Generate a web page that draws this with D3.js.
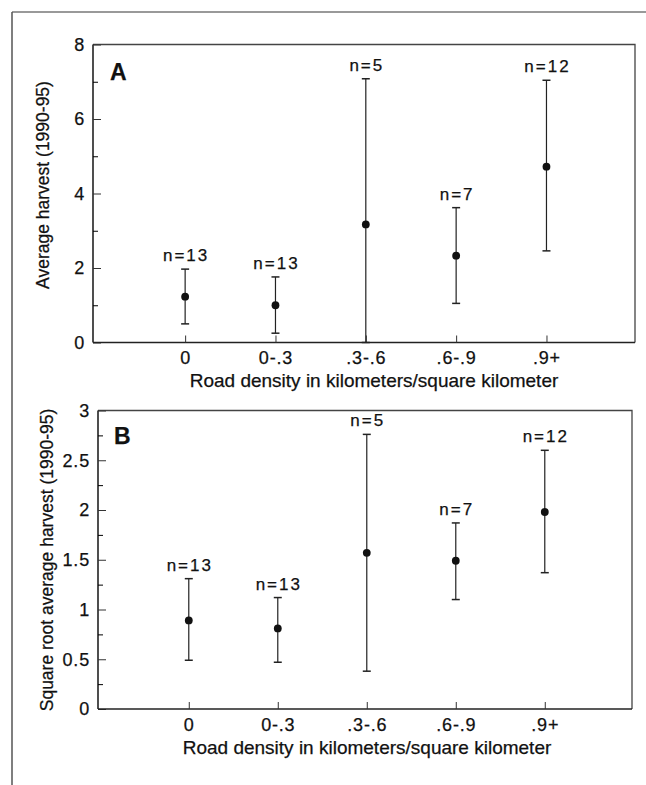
<!DOCTYPE html>
<html>
<head>
<meta charset="utf-8">
<script src="https://cdn.jsdelivr.net/npm/d3@7"></script>
<style>
  body { margin: 0; background: #fff; }
  svg { display: block; font-family: "Liberation Sans", Arial, Helvetica, sans-serif; }
  svg text { stroke: #111; stroke-width: 0.25px; }
</style>
</head>
<body>
<div id="chart"></div>
<script>
// Data
var categories = ["0", "0-.3", ".3-.6", ".6-.9", ".9+"];
var sampleSizes = [13, 13, 5, 7, 12];

// panel A: average harvest (1990-95)
var harvestMean = [1.23, 1.00, 3.17, 2.33, 4.72];
var harvestLow  = [0.50, 0.25, 0.00, 1.05, 2.46];
var harvestHigh = [1.97, 1.76, 7.08, 3.62, 7.04];

// panel B: square root average harvest
var sqrtMean = [0.89, 0.81, 1.57, 1.49, 1.98];
var sqrtLow  = [0.49, 0.47, 0.38, 1.10, 1.37];
var sqrtHigh = [1.31, 1.12, 2.76, 1.87, 2.60];

var yTicksA = [0, 2, 4, 6, 8];
var yMinorA = [1, 3, 5, 7];
var yTicksB = [0, 0.5, 1, 1.5, 2, 2.5, 3];
var yMinorB = [0.25, 0.75, 1.25, 1.75, 2.25, 2.75];

var width = 646, height = 785;

var svg = d3.select("#chart")
  .append("svg")
  .attr("width", width)
  .attr("height", height);

// page frame (top rule + left rule)
svg.append("line")
  .attr("x1", 12).attr("x2", width)
  .attr("y1", 12).attr("y2", 12)
  .attr("stroke", "#777").attr("stroke-width", 1.5);
svg.append("line")
  .attr("x1", 12).attr("x2", 12)
  .attr("y1", 12).attr("y2", height)
  .attr("stroke", "#555").attr("stroke-width", 1.5);

function panel(opt) {
  var g = svg.append("g").attr("class", "panel");

  var x = d3.scaleLinear()
    .domain([-1.02, 4.98])
    .range([opt.left, opt.right]);

  var y = d3.scaleLinear()
    .domain([0, opt.yMax])
    .range([opt.bottom, opt.top]);

  // box: top and right sides
  g.append("path")
    .attr("d", "M" + opt.left + "," + opt.top + "H" + opt.right + "V" + opt.bottom)
    .attr("fill", "none")
    .attr("stroke", "#444")
    .attr("stroke-width", 1.3);

  // y axis, ticks pointing inward
  var yAxis = g.append("g")
    .attr("transform", "translate(" + opt.left + ",0)")
    .call(d3.axisLeft(y)
      .tickValues(opt.ticks)
      .tickFormat(d3.format("~g"))
      .tickSize(-8)
      .tickSizeOuter(0)
      .tickPadding(8));

  g.append("g")
    .attr("transform", "translate(" + opt.left + ",0)")
    .call(d3.axisLeft(y)
      .tickValues(opt.minor)
      .tickFormat("")
      .tickSize(-5)
      .tickSizeOuter(0))
    .call(function(a) { a.select(".domain").remove(); });

  // x axis
  var xAxis = g.append("g")
    .attr("transform", "translate(0," + opt.bottom + ")")
    .call(d3.axisBottom(x)
      .tickValues(d3.range(categories.length))
      .tickFormat(function(i) { return categories[i]; })
      .tickSize(-7)
      .tickSizeOuter(0)
      .tickPadding(9));

  [yAxis, xAxis].forEach(function(a) {
    a.selectAll("path.domain")
      .attr("stroke", "#222")
      .attr("stroke-width", 1.6);
    a.selectAll(".tick line")
      .attr("stroke", "#333")
      .attr("stroke-width", 1);
    a.selectAll(".tick text")
      .attr("fill", "#111")
      .style("font-size", "18px")
      .style("letter-spacing", "0.8px");
  });
  // stretch the x domain line to meet the y axis
  xAxis.select("path.domain")
    .attr("d", "M" + opt.left + ",0H" + opt.right);
  yAxis.select("path.domain")
    .attr("d", "M0," + opt.bottom + "V" + opt.top);

  // axis titles
  g.append("text")
    .attr("x", opt.xTitleX)
    .attr("y", opt.bottom + 44.5)
    .attr("text-anchor", "middle")
    .attr("fill", "#111")
    .style("font-size", "19px")
    .text("Road density in kilometers/square kilometer");

  g.append("text")
    .attr("transform", "translate(" + opt.yTitleX + "," + opt.yTitleY + ") rotate(-90)")
    .attr("text-anchor", "middle")
    .attr("fill", "#111")
    .style("font-size", "17.5px")
    .text(opt.yTitle);

  // panel letter
  g.append("text")
    .attr("x", opt.letterX)
    .attr("y", opt.letterY)
    .attr("fill", "#111")
    .style("font-size", "23px")
    .style("font-weight", "bold")
    .text(opt.letter);

  var cap = 4;
  var rows = categories.map(function(c, i) {
    return { i: i, mean: opt.mean[i], low: opt.low[i], high: opt.high[i], n: sampleSizes[i] };
  });

  var bars = g.selectAll(".bar")
    .data(rows)
    .enter()
    .append("g")
    .attr("class", "bar");

  bars.append("line")
    .attr("x1", function(d) { return x(d.i); })
    .attr("x2", function(d) { return x(d.i); })
    .attr("y1", function(d) { return y(d.low); })
    .attr("y2", function(d) { return y(d.high); })
    .attr("stroke", "#222")
    .attr("stroke-width", 1.2);

  bars.selectAll(".cap")
    .data(function(d) { return [{ i: d.i, v: d.low }, { i: d.i, v: d.high }]; })
    .enter()
    .append("line")
    .attr("class", "cap")
    .attr("x1", function(d) { return x(d.i) - cap; })
    .attr("x2", function(d) { return x(d.i) + cap; })
    .attr("y1", function(d) { return y(d.v); })
    .attr("y2", function(d) { return y(d.v); })
    .attr("stroke", "#222")
    .attr("stroke-width", 1.5);

  bars.append("circle")
    .attr("cx", function(d) { return x(d.i); })
    .attr("cy", function(d) { return y(d.mean); })
    .attr("r", 3.9)
    .attr("fill", "#111");

  bars.append("text")
    .attr("x", function(d) { return x(d.i) + 1; })
    .attr("y", function(d) { return y(d.high) - 8; })
    .attr("text-anchor", "middle")
    .attr("fill", "#111")
    .style("font-size", "17px")
    .style("letter-spacing", "2px")
    .text(function(d) { return "n=" + d.n; });
}

panel({
  letter: "A",
  left: 93, right: 635, top: 44.5, bottom: 342.5,
  yMax: 8, ticks: yTicksA, minor: yMinorA,
  mean: harvestMean, low: harvestLow, high: harvestHigh,
  yTitle: "Average harvest (1990-95)",
  yTitleX: 49, yTitleY: 185,
  xTitleX: 374,
  letterX: 110, letterY: 80
});

panel({
  letter: "B",
  left: 98, right: 632, top: 410.5, bottom: 709,
  yMax: 3, ticks: yTicksB, minor: yMinorB,
  mean: sqrtMean, low: sqrtLow, high: sqrtHigh,
  yTitle: "Square root average harvest (1990-95)",
  yTitleX: 53, yTitleY: 560,
  xTitleX: 367,
  letterX: 114, letterY: 444
});
</script>
</body>
</html>
